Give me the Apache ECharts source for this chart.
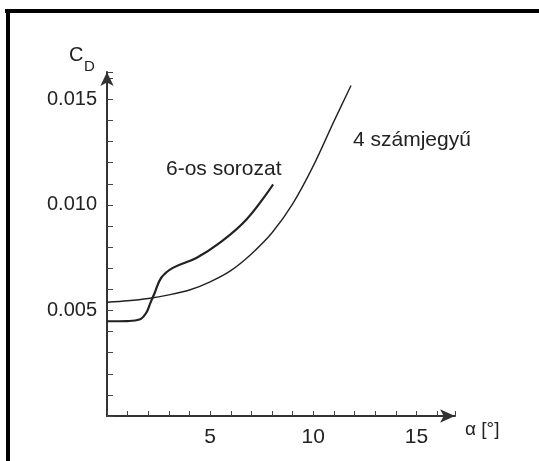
<!DOCTYPE html>
<html>
<head>
<meta charset="utf-8">
<script src="https://cdn.jsdelivr.net/npm/echarts@6/dist/echarts.min.js"></script>
<style>
  html, body { margin: 0; padding: 0; background: #fff; }
  #chart { width: 539px; height: 461px; }
</style>
</head>
<body>
<div id="chart"></div>
<script>
// 4 számjegyű profil
var alphaFour = [0, 1, 2, 3, 4, 5, 6, 7, 8, 9, 10, 11, 11.83];
var cdFour = [0.00539, 0.00546, 0.00557, 0.00574, 0.00597, 0.00636, 0.00689, 0.00768, 0.00868, 0.01005, 0.01185, 0.01396, 0.01566];

// 6-os sorozat
var alphaSix = [0, 1, 1.58, 1.9, 2.1, 2.31, 2.63, 3.19, 4.33, 5.46, 6.76, 8.05];
var cdSix = [0.00449, 0.0045, 0.00457, 0.00489, 0.00535, 0.00583, 0.00655, 0.00702, 0.00749, 0.0082, 0.00931, 0.01097];

var xLabels = [5, 10, 15];
var yLabels = [0.005, 0.010, 0.015];

var font = 'Liberation Sans, Arial, sans-serif';
var ink = '#222';

function pairs(xs, ys) {
    return xs.map(function (x, i) { return [x, ys[i]]; });
}

var chart = echarts.init(document.getElementById('chart'));

chart.setOption({
    animation: false,
    backgroundColor: '#fff',
    grid: { left: 107, right: 84, top: 72, bottom: 45 },
    xAxis: {
        type: 'value',
        min: 0,
        max: 16.87,
        interval: 1,
        splitLine: { show: false },
        axisLine: {
            lineStyle: { color: '#333', width: 2 },
            symbol: ['none', 'arrow'],
            symbolSize: [10, 15]
        },
        axisTick: { inside: true, length: 5, lineStyle: { color: '#444', width: 1 } },
        axisLabel: {
            margin: 11,
            fontFamily: font,
            fontSize: 21,
            color: ink,
            formatter: function (v) { return xLabels.indexOf(v) >= 0 ? String(v) : ''; }
        }
    },
    yAxis: {
        type: 'value',
        min: 0,
        max: 0.0163,
        interval: 0.001,
        splitLine: { show: false },
        axisLine: {
            lineStyle: { color: '#333', width: 2 },
            symbol: ['none', 'arrow'],
            symbolSize: [10, 14]
        },
        axisTick: { inside: true, length: 6, lineStyle: { color: '#444', width: 1 } },
        axisLabel: {
            margin: 10,
            fontFamily: font,
            fontSize: 20,
            color: ink,
            formatter: function (v) {
                var hit = yLabels.some(function (t) { return Math.abs(t - v) < 1e-9; });
                return hit ? v.toFixed(3) : '';
            }
        }
    },
    series: [
        {
            name: '4 számjegyű',
            type: 'line',
            data: pairs(alphaFour, cdFour),
            smooth: 0.3,
            showSymbol: false,
            lineStyle: { color: ink, width: 1.4 }
        },
        {
            name: '6-os sorozat',
            type: 'line',
            data: pairs(alphaSix, cdSix),
            smooth: 0.4,
            showSymbol: false,
            lineStyle: { color: ink, width: 2.2 }
        }
    ],
    graphic: [
        // frame (only top and left edges are visible)
        { type: 'rect', shape: { x: 5, y: 9, width: 534, height: 4 }, style: { fill: '#000' } },
        { type: 'rect', shape: { x: 6, y: 9, width: 4, height: 452 }, style: { fill: '#000' } },
        { type: 'text', left: 69, top: 45, style: { text: 'C', font: '20px ' + font, fill: ink } },
        { type: 'text', left: 84, top: 59, style: { text: 'D', font: '15px ' + font, fill: ink } },
        { type: 'text', left: 166, top: 159, style: { text: '6-os sorozat', font: '21px ' + font, fill: ink } },
        { type: 'text', left: 353, top: 130, style: { text: '4 számjegyű', font: '21px ' + font, fill: ink } },
        { type: 'text', left: 465, top: 420, style: { text: 'α [°]', font: '19px ' + font, fill: ink } }
    ]
});
</script>
</body>
</html>
